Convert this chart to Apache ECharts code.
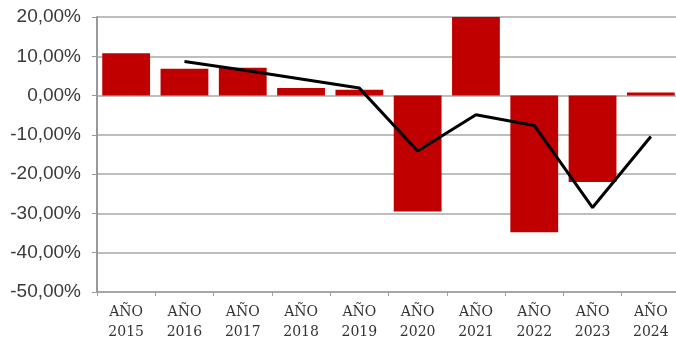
<!DOCTYPE html>
<html><head><meta charset="utf-8">
<script src="https://cdn.jsdelivr.net/npm/echarts@6/dist/echarts.min.js"></script>
<style>html,body{margin:0;padding:0;background:#fff}#c{width:676px;height:342px}</style>
</head><body><div id="c"></div>
<script>
var categories = ['AÑO\n2015','AÑO\n2016','AÑO\n2017','AÑO\n2018','AÑO\n2019','AÑO\n2020','AÑO\n2021','AÑO\n2022','AÑO\n2023','AÑO\n2024'];
var barValues = [10.8, 6.8, 7.1, 1.9, 1.5, -29.5, 20.0, -34.8, -22.0, 0.8];
var lineValues = [null, 8.7, 6.5, 4.2, 1.9, -14.1, -4.9, -7.6, -28.5, -10.4];
var yMin = -50, yMax = 20, yStep = 10;

var chart = echarts.init(document.getElementById('c'));
chart.setOption({
  animation: false,
  grid: {left: 97, right: -4, top: 17, bottom: 50, outerBoundsMode: 'none', containLabel: false},
  xAxis: [{
    type: 'category', data: categories,
    axisLine: {show: false}, axisTick: {show: false},
    axisLabel: {fontFamily: 'DejaVu Serif', fontSize: 14, color: '#333', lineHeight: 20, margin: 10}
  }, {
    type: 'category', data: categories, position: 'bottom',
    axisLine: {show: true, onZero: true, lineStyle: {color: '#a0a0a0', width: 1.5}},
    axisTick: {show: true, length: 4, lineStyle: {color: '#a0a0a0'}},
    axisLabel: {show: false}
  }],
  yAxis: {
    type: 'value', min: yMin, max: yMax, interval: yStep,
    axisLine: {show: true, lineStyle: {color: '#999', width: 2}},
    axisTick: {show: true, length: 5, lineStyle: {color: '#999'}},
    splitLine: {lineStyle: {color: '#a8a8a8', width: 1.5}},
    axisLabel: {fontFamily: 'Liberation Sans', fontSize: 19, color: '#3a3a3a', margin: 16,
      formatter: function(v){ return v.toFixed(2).replace('.', ',') + '%'; }}
  },
  series: [{
    type: 'bar', data: barValues, xAxisIndex: 0, barCategoryGap: '18%',
    itemStyle: {color: '#C00000'}
  }, {
    type: 'line', data: lineValues, xAxisIndex: 0, showSymbol: false, symbol: 'none',
    lineStyle: {color: '#000', width: 3}, z: 5
  }]
});
</script></body></html>
